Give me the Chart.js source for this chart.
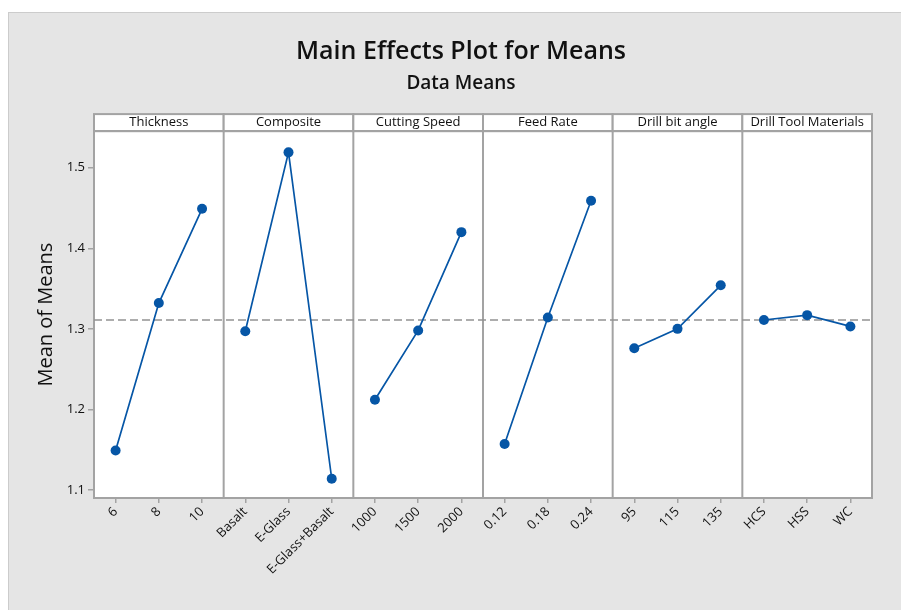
<!DOCTYPE html>
<html><head><meta charset="utf-8">
<script src="https://cdn.jsdelivr.net/npm/chart.js@4/dist/chart.umd.min.js"></script>
<style>html,body{margin:0;padding:0;background:#fff;overflow:hidden;} #wrap{width:901px;height:610px;position:relative;}</style>
</head><body><div id="wrap"><canvas id="c" width="901" height="610"></canvas></div>
<script>
// ---- data ----
const factors = ['Thickness', 'Composite', 'Cutting Speed', 'Feed Rate', 'Drill bit angle', 'Drill Tool Materials'];
const thicknessLevels = ['6', '8', '10'];
const compositeLevels = ['Basalt', 'E-Glass', 'E-Glass+Basalt'];
const speedLevels = ['1000', '1500', '2000'];
const feedLevels = ['0.12', '0.18', '0.24'];
const angleLevels = ['95', '115', '135'];
const toolLevels = ['HCS', 'HSS', 'WC'];

const thicknessMeans = [1.149, 1.332, 1.449];
const compositeMeans = [1.297, 1.519, 1.114];
const speedMeans = [1.212, 1.298, 1.420];
const feedMeans = [1.157, 1.314, 1.459];
const angleMeans = [1.276, 1.300, 1.354];
const toolMeans = [1.311, 1.317, 1.303];

const grandMean = 1.311;
const yTicks = [1.1, 1.2, 1.3, 1.4, 1.5];
const yMin = 1.0901, yMax = 1.5454;

// ---- build ----
const levels = [thicknessLevels, compositeLevels, speedLevels, feedLevels, angleLevels, toolLevels];
const means = [thicknessMeans, compositeMeans, speedMeans, feedMeans, angleMeans, toolMeans];

const FONT = "'Open Sans', 'Noto Sans', sans-serif";
const BLUE = '#0656a6';
const FRAME = '#a3a3a3';
Chart.defaults.font.family = FONT;
Chart.defaults.color = '#111';

const scales = {
  y: {
    type: 'linear', position: 'left', min: yMin, max: yMax,
    afterBuildTicks: s => { s.ticks = yTicks.map(v => ({ value: v })); },
    afterFit: s => { s.width = 44; },
    grid: { drawOnChartArea: false, tickLength: 6, color: FRAME, lineWidth: 1.5 },
    border: { display: false },
    ticks: { font: { size: 13 }, color: '#111', padding: 3, callback: v => v.toFixed(1) },
    title: { display: true, text: 'Mean of Means', font: { size: 20, weight: '500' }, color: '#111', padding: { top: -16, bottom: 0 } }
  },
  xr: { type: 'linear', position: 'bottom', display: false, min: 0, max: 1 }
};
const datasets = [{
  label: 'mean', xAxisID: 'xr', yAxisID: 'y',
  data: [{ x: 0, y: grandMean }, { x: 1, y: grandMean }],
  borderColor: '#939393', borderWidth: 1.6, borderDash: [8, 4], pointRadius: 0, order: 10
}];
levels.forEach((lv, i) => {
  scales['x' + i] = {
    type: 'category', labels: lv, position: 'bottom', stack: 'bot', stackWeight: 1, offset: true,
    afterFit: s => { s.height = 80; },
    grid: { display: true, drawOnChartArea: false, offset: false, tickLength: 5, color: FRAME, lineWidth: 1.5 },
    border: { display: false },
    ticks: { minRotation: 45, maxRotation: 45, autoSkip: false, font: { size: 13 }, color: '#111', padding: 1 }
  };
  datasets.push({
    label: factors[i], xAxisID: 'x' + i, yAxisID: 'y', data: means[i],
    borderColor: BLUE, backgroundColor: BLUE, borderWidth: 1.7,
    pointRadius: 5, pointBackgroundColor: BLUE, pointBorderWidth: 0, order: 1
  });
});
// top strip axes: created in reverse so that the top stack lays them out left-to-right
for (let i = levels.length - 1; i >= 0; i--) {
  scales['t' + i] = {
    type: 'category', labels: levels[i], position: 'top', stack: 'top', stackWeight: 1, offset: true, axis: 'x',
    afterFit: s => { s.height = 17; },
    grid: { display: false }, border: { display: false }, ticks: { display: false },
    title: { display: true, text: factors[i], font: { size: 13, weight: '500' }, color: '#111', padding: { top: 0.8, bottom: 0 } }
  };
}

const framePlugin = {
  id: 'frame',
  beforeDraw(chart) {
    const { ctx, chartArea: a } = chart;
    ctx.save();
    ctx.fillStyle = '#ffffff';
    ctx.fillRect(0, 0, chart.width, chart.height);
    ctx.fillStyle = '#e5e5e5';
    ctx.fillRect(8, 12, chart.width - 8, chart.height - 12);
    ctx.strokeStyle = '#cccccc'; ctx.lineWidth = 1;
    ctx.strokeRect(8.5, 12.5, chart.width, chart.height);
    // plot area
    ctx.fillStyle = '#ffffff';
    ctx.fillRect(a.left, a.top, a.width, a.height);
    ctx.strokeStyle = FRAME; ctx.lineWidth = 2;
    for (let i = 0; i < factors.length; i++) {
      const t = chart.scales['t' + i];
      ctx.fillStyle = '#ffffff';
      ctx.fillRect(t.left, t.top, t.width, t.height);
      ctx.strokeRect(t.left, t.top, t.width, t.height);
      const b = chart.scales['x' + i];
      ctx.beginPath();
      ctx.moveTo(b.right, a.top); ctx.lineTo(b.right, a.bottom);
      ctx.stroke();
    }
    ctx.strokeRect(a.left, a.top, a.width, a.height);
    ctx.restore();
  }
};

new Chart(document.getElementById('c'), {
  type: 'line',
  data: { datasets },
  options: {
    responsive: false, animation: false, devicePixelRatio: 1,
    layout: { padding: { left: 50, right: 29, top: 12, bottom: 32 } },
    scales,
    plugins: {
      legend: { display: false },
      tooltip: { enabled: false },
      title: { display: true, text: 'Main Effects Plot for Means', font: { size: 25, weight: '600' }, color: '#111', padding: { top: 25, bottom: 0 } },
      subtitle: { display: true, text: 'Data Means', font: { size: 19, weight: '600' }, color: '#111', padding: { top: 5.5, bottom: 18.8 } }
    }
  },
  plugins: [framePlugin]
});
</script></body></html>
